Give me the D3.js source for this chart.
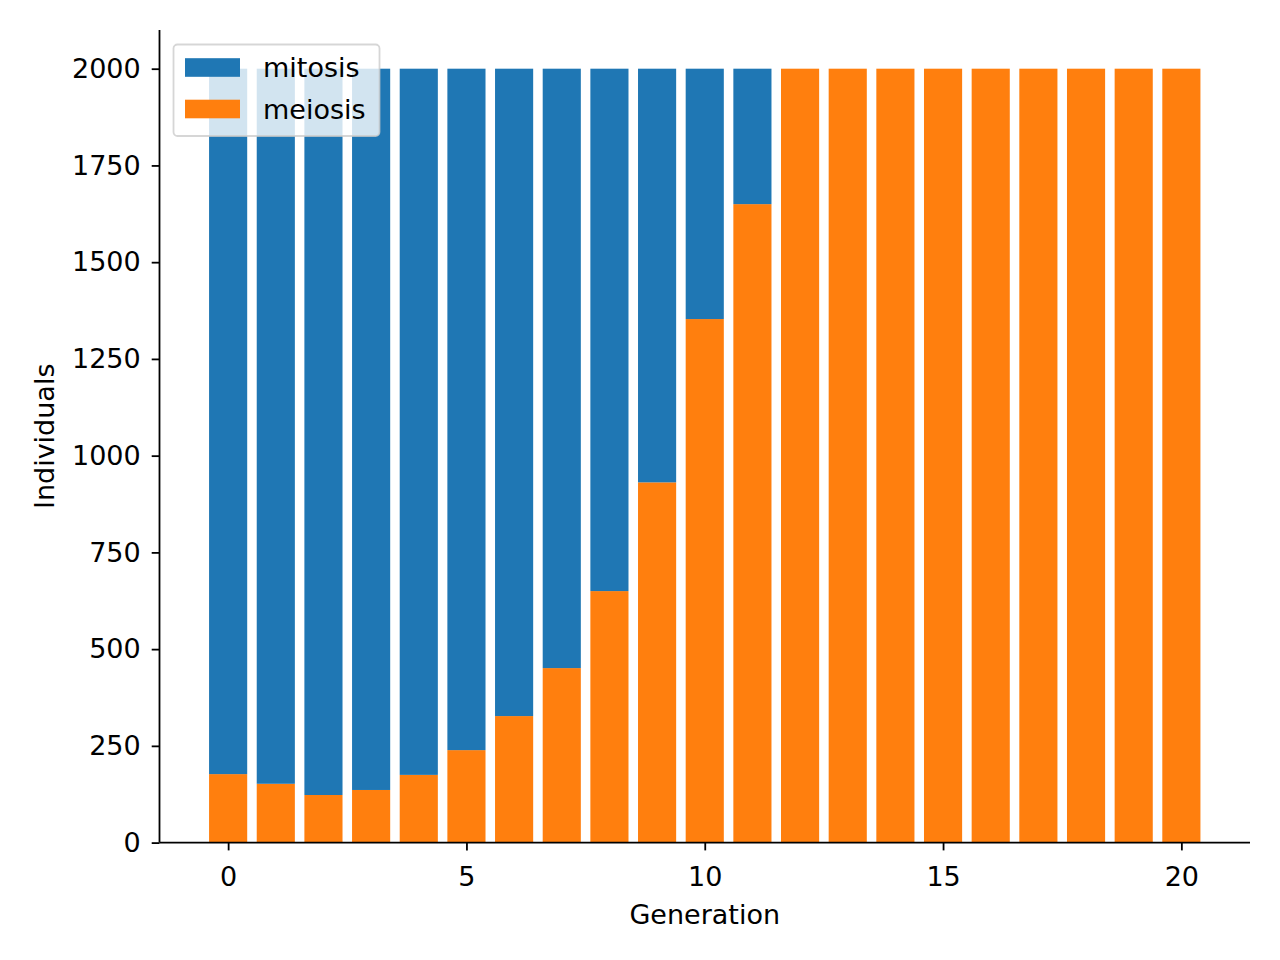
<!DOCTYPE html>
<html><head><meta charset="utf-8">
<script src="https://cdn.jsdelivr.net/npm/d3@7"></script>
<style>body{margin:0;background:#fff}svg{display:block}text{font-family:"DejaVu Sans",sans-serif}</style>
</head><body>
<svg id="c" width="1280" height="960"></svg>
<script>
const generations = d3.range(0, 21);
const meiosis = [177, 152, 123, 136, 175, 239, 327, 451, 650, 931, 1353, 1650, 2000, 2000, 2000, 2000, 2000, 2000, 2000, 2000, 2000];
const total = 2000;
const mitosis = meiosis.map(v => total - v);
const xTicks = [0, 5, 10, 15, 20];
const yTicks = [0, 250, 500, 750, 1000, 1250, 1500, 1750, 2000];
const colors = {mitosis: "#1f77b4", meiosis: "#ff7f0e"};

const FS = 27;
const svg = d3.select("#c");
const L = 159.5, R = 1250, T = 30, B = 842.6;
const bw = 0.8;
const xMin = -bw/2 - 0.05*(20 + bw), xMax = 20 + bw/2 + 0.05*(20 + bw);
const x = d3.scaleLinear().domain([xMin, xMax]).range([L, R]);
const y = d3.scaleLinear().domain([0, 2100]).range([B, T]);

const g = svg.append("g");
g.selectAll("rect.me").data(generations).join("rect")
  .attr("x", i => x(i - bw/2)).attr("width", i => x(i + bw/2) - x(i - bw/2))
  .attr("y", i => y(meiosis[i])).attr("height", i => y(0) - y(meiosis[i]))
  .attr("fill", colors.meiosis);
g.selectAll("rect.mi").data(generations).join("rect")
  .attr("x", i => x(i - bw/2)).attr("width", i => x(i + bw/2) - x(i - bw/2))
  .attr("y", i => y(meiosis[i] + mitosis[i])).attr("height", i => y(meiosis[i]) - y(meiosis[i] + mitosis[i]))
  .attr("fill", colors.mitosis);

const xAxis = svg.append("g").attr("transform", `translate(0,${B})`)
  .call(d3.axisBottom(x).tickValues(xTicks).tickSize(7.8).tickPadding(16).tickFormat(d3.format("d")));
const yAxis = svg.append("g").attr("transform", `translate(${L},0)`)
  .call(d3.axisLeft(y).tickValues(yTicks).tickSize(7.8).tickPadding(11).tickFormat(d3.format("d")));
[xAxis, yAxis].forEach(a => {
  a.selectAll("path.domain").attr("stroke", "#000").attr("stroke-width", 1.8);
  a.selectAll(".tick line").attr("stroke", "#000").attr("stroke-width", 1.8);
  a.selectAll(".tick text").attr("fill", "#000").style("font-size", FS + "px").style("font-family", "DejaVu Sans");
});
xAxis.select("path.domain").attr("d", `M${L},0H${R}`);
yAxis.select("path.domain").attr("d", `M0,${B}V${T}`);

svg.append("text").attr("x", (L + R)/2).attr("y", 924).attr("text-anchor", "middle")
  .style("font-size", FS + "px").text("Generation");
svg.append("text").attr("transform", `translate(54,${(T + B)/2}) rotate(-90)`).attr("text-anchor", "middle")
  .style("font-size", FS + "px").text("Individuals");

const lg = svg.append("g");
lg.append("rect").attr("x", 173.5).attr("y", 44.5).attr("width", 206).attr("height", 91.5).attr("rx", 4)
  .attr("fill", "#fff").attr("fill-opacity", 0.8).attr("stroke", "#cccccc").attr("stroke-opacity", 0.8).attr("stroke-width", 1.8);
const items = [["mitosis", colors.mitosis], ["meiosis", colors.meiosis]];
items.forEach(([name, col], k) => {
  const cy = 67.5 + k * 41.5;
  lg.append("rect").attr("x", 185).attr("y", cy - 9.3).attr("width", 55).attr("height", 18.6).attr("fill", col);
  lg.append("text").attr("x", 263).attr("y", cy + 9.5).style("font-size", FS + "px").text(name);
});
</script>
</body></html>
